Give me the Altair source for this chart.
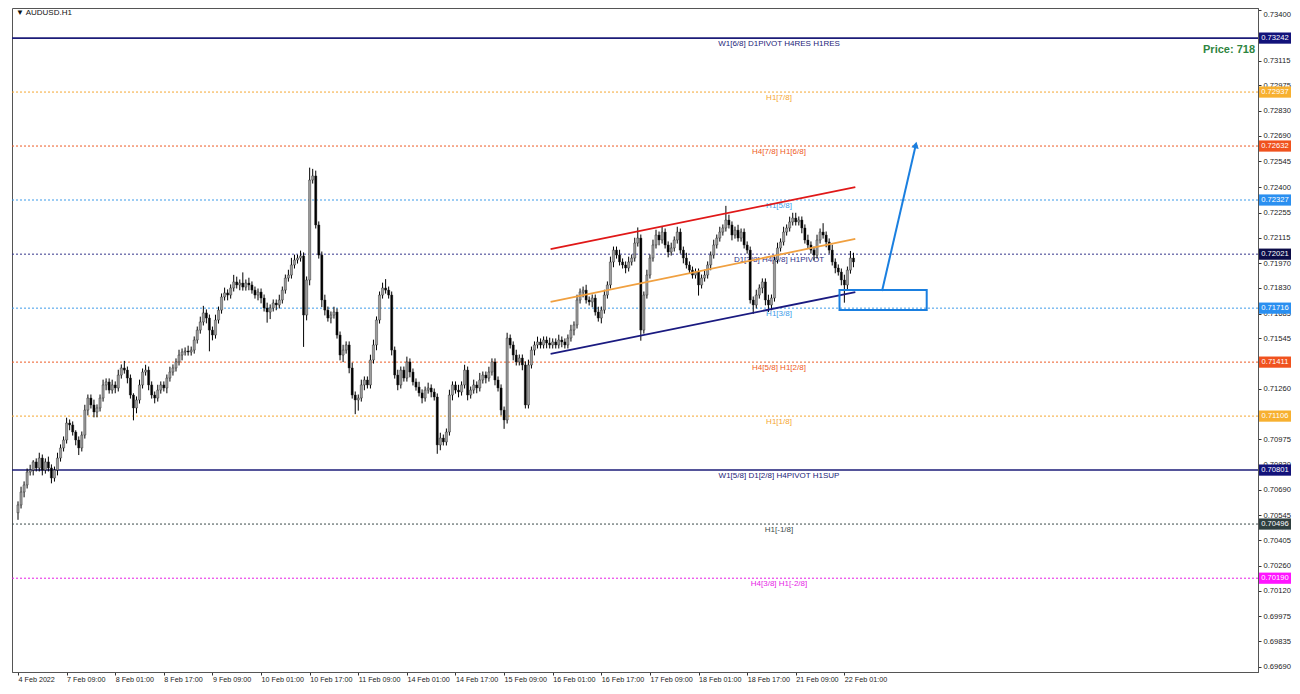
import json
import altair as alt
import pandas as pd

# ---------------- data ----------------
first_open = 0.70560
closes = [
    0.70604, 0.70677, 0.70717, 0.70790, 0.70801, 0.70847, 0.70813, 0.70869, 0.70801, 0.70847, 0.70813, 0.70756, 0.70801, 0.70869, 0.70926, 0.70971,
    0.71067, 0.71056, 0.71016, 0.70971, 0.70926, 0.70999, 0.71140, 0.71208, 0.71169, 0.71129, 0.71152, 0.71208, 0.71282, 0.71299, 0.71253, 0.71282,
    0.71265, 0.71338, 0.71378, 0.71366, 0.71321, 0.71225, 0.71152, 0.71197, 0.71282, 0.71355, 0.71366, 0.71282, 0.71225, 0.71208, 0.71253, 0.71282,
    0.71265, 0.71321, 0.71355, 0.71378, 0.71412, 0.71451, 0.71468, 0.71474, 0.71468, 0.71479, 0.71536, 0.71592, 0.71638, 0.71689, 0.71660, 0.71592,
    0.71564, 0.71649, 0.71705, 0.71779, 0.71802, 0.71790, 0.71830, 0.71864, 0.71847, 0.71858, 0.71835, 0.71858, 0.71847, 0.71818, 0.71790, 0.71807,
    0.71773, 0.71717, 0.71694, 0.71717, 0.71745, 0.71734, 0.71762, 0.71818, 0.71886, 0.71903, 0.71960, 0.71988, 0.71999, 0.72011, 0.71677, 0.71875,
    0.72440, 0.72463, 0.72186, 0.72016, 0.71762, 0.71705, 0.71660, 0.71677, 0.71694, 0.71564, 0.71451, 0.71479, 0.71508, 0.71378, 0.71225, 0.71197,
    0.71208, 0.71282, 0.71310, 0.71282, 0.71423, 0.71508, 0.71649, 0.71790, 0.71830, 0.71818, 0.71790, 0.71479, 0.71338, 0.71282, 0.71366, 0.71321,
    0.71412, 0.71355, 0.71299, 0.71270, 0.71237, 0.71208, 0.71253, 0.71265, 0.71242, 0.71214, 0.70943, 0.70982, 0.70960, 0.71016, 0.71225, 0.71282,
    0.71253, 0.71242, 0.71282, 0.71366, 0.71225, 0.71253, 0.71282, 0.71265, 0.71310, 0.71338, 0.71321, 0.71355, 0.71412, 0.71310, 0.71265, 0.71140,
    0.71084, 0.71547, 0.71508, 0.71451, 0.71412, 0.71434, 0.71395, 0.71169, 0.71395, 0.71479, 0.71508, 0.71525, 0.71508, 0.71536, 0.71519, 0.71508,
    0.71525, 0.71508, 0.71536, 0.71525, 0.71508, 0.71547, 0.71592, 0.71621, 0.71762, 0.71807, 0.71818, 0.71762, 0.71751, 0.71773, 0.71694, 0.71660,
    0.71705, 0.71790, 0.71847, 0.71977, 0.72044, 0.72016, 0.71977, 0.71960, 0.71943, 0.71977, 0.71999, 0.72084, 0.72112, 0.71592, 0.71790, 0.71903,
    0.71999, 0.72073, 0.72129, 0.72101, 0.72146, 0.72073, 0.72033, 0.72056, 0.72101, 0.72146, 0.72044, 0.71999, 0.71960, 0.71931, 0.71903, 0.71920,
    0.71847, 0.71886, 0.71903, 0.71960, 0.72016, 0.72073, 0.72112, 0.72146, 0.72169, 0.72214, 0.72186, 0.72129, 0.72157, 0.72112, 0.72146, 0.72073,
    0.72044, 0.71762, 0.71734, 0.71790, 0.71830, 0.71864, 0.71762, 0.71734, 0.71773, 0.71988, 0.72056, 0.72090, 0.72146, 0.72169, 0.72203, 0.72225,
    0.72203, 0.72214, 0.72169, 0.72101, 0.72073, 0.72044, 0.72016, 0.72101, 0.72146, 0.72129, 0.72090, 0.72044, 0.71977, 0.71943, 0.71920, 0.71875,
    0.71847, 0.71931, 0.71999, 0.71977,
]
upper_wick_pips = [
    2, 3, 2, 2, 3, 1, 2, 3, 2, 2, 3, 2, 2, 3, 2, 2,
    3, 2, 2, 1, 2, 2, 3, 2, 2, 3, 2, 2, 3, 2, 2, 3,
    2, 3, 2, 4, 2, 2, 1, 2, 3, 2, 3, 2, 2, 2, 3, 2,
    2, 2, 3, 2, 2, 3, 2, 2, 3, 2, 2, 2, 3, 4, 2, 2,
    2, 3, 2, 2, 3, 2, 2, 4, 3, 2, 6, 2, 3, 2, 2, 2,
    2, 2, 3, 2, 2, 2, 3, 2, 2, 3, 4, 3, 2, 3, 2, 2,
    7, 4, 3, 2, 2, 3, 2, 2, 3, 2, 2, 3, 2, 2, 3, 2,
    2, 3, 2, 2, 3, 3, 2, 2, 3, 5, 2, 2, 2, 3, 2, 2,
    3, 2, 2, 2, 3, 2, 2, 3, 2, 2, 2, 3, 2, 2, 3, 2,
    2, 3, 2, 3, 2, 2, 3, 2, 4, 2, 2, 3, 2, 2, 2, 2,
    2, 3, 2, 2, 3, 2, 2, 2, 3, 2, 2, 3, 2, 2, 2, 3,
    2, 2, 3, 2, 2, 2, 3, 2, 3, 2, 2, 3, 2, 2, 2, 3,
    2, 3, 2, 3, 2, 2, 3, 2, 2, 3, 2, 3, 6, 2, 2, 3,
    2, 3, 3, 2, 3, 2, 2, 3, 2, 3, 2, 2, 3, 2, 2, 2,
    2, 2, 3, 2, 2, 3, 2, 3, 2, 8, 3, 2, 2, 3, 2, 2,
    2, 2, 2, 3, 2, 2, 2, 3, 2, 2, 3, 2, 3, 2, 3, 3,
    3, 2, 2, 2, 3, 2, 2, 3, 2, 5, 2, 2, 3, 2, 2, 2,
    3, 2, 4, 3,
]
lower_wick_pips = [
    4, 2, 3, 2, 2, 3, 2, 2, 3, 2, 2, 3, 2, 3, 2, 2,
    2, 3, 2, 3, 4, 2, 2, 3, 2, 3, 3, 2, 2, 3, 2, 2,
    3, 2, 2, 2, 3, 2, 7, 3, 2, 2, 2, 3, 2, 3, 2, 2,
    2, 3, 2, 2, 2, 2, 3, 2, 2, 2, 2, 2, 2, 2, 3, 12,
    3, 2, 2, 2, 2, 3, 2, 2, 2, 3, 2, 2, 3, 2, 2, 3,
    3, 2, 6, 4, 2, 3, 2, 2, 2, 2, 2, 2, 2, 2, 18, 3,
    3, 2, 2, 2, 4, 3, 2, 3, 2, 2, 3, 4, 2, 3, 2, 8,
    6, 2, 3, 2, 2, 2, 3, 2, 2, 2, 2, 3, 2, 3, 2, 2,
    2, 3, 2, 2, 2, 3, 2, 2, 3, 2, 5, 3, 2, 2, 2, 3,
    2, 3, 2, 2, 3, 2, 2, 3, 2, 2, 3, 2, 2, 3, 2, 3,
    5, 2, 2, 3, 2, 2, 3, 2, 2, 2, 3, 2, 2, 2, 3, 2,
    2, 2, 2, 3, 2, 2, 2, 3, 2, 2, 3, 2, 2, 3, 2, 2,
    3, 2, 2, 2, 3, 2, 2, 2, 3, 2, 2, 2, 2, 6, 2, 2,
    2, 2, 2, 3, 2, 2, 3, 2, 2, 2, 2, 3, 2, 2, 2, 2,
    6, 2, 2, 2, 3, 2, 2, 2, 2, 2, 2, 3, 2, 2, 2, 2,
    2, 2, 5, 2, 2, 3, 3, 4, 3, 2, 2, 2, 2, 2, 2, 2,
    2, 2, 3, 2, 2, 2, 3, 2, 2, 2, 3, 2, 2, 3, 2, 3,
    10, 3, 2, 3,
]

x_tick_labels = ["4 Feb 2022", "7 Feb 09:00", "8 Feb 01:00", "8 Feb 17:00", "9 Feb 09:00",
                 "10 Feb 01:00", "10 Feb 17:00", "11 Feb 09:00", "14 Feb 01:00", "14 Feb 17:00",
                 "15 Feb 09:00", "16 Feb 01:00", "16 Feb 17:00", "17 Feb 09:00", "18 Feb 01:00",
                 "18 Feb 17:00", "21 Feb 09:00", "22 Feb 01:00"]
bars_per_label = 16
y_tick_values = [0.73400, 0.73115, 0.72975, 0.72830, 0.72690, 0.72545, 0.72400, 0.72255,
                 0.72115, 0.71970, 0.71830, 0.71685, 0.71545, 0.71260, 0.70975,
                 0.70830, 0.70690, 0.70545, 0.70405, 0.70260, 0.70120, 0.69975, 0.69835, 0.69690]

level_prices = [0.73242, 0.72937, 0.72632, 0.72327, 0.72021, 0.71716, 0.71411, 0.71106, 0.70801, 0.70496, 0.70190]
level_names = ["W1[6/8] D1PIVOT H4RES H1RES", "H1[7/8]", "H4[7/8] H1[6/8]", "H1[5/8]",
               "D1[3/8] H4[6/8] H1PIVOT", "H1[3/8]", "H4[5/8] H1[2/8]", "H1[1/8]",
               "W1[5/8] D1[2/8] H4PIVOT H1SUP", "H1[-1/8]", "H4[3/8] H1[-2/8]"]
level_solid = [True, False, False, False, False, False, False, False, True, False, False]
level_colors = ["#1c1c78", "#f5a630", "#ee5a24", "#3d9be9", "#34348a", "#3d9be9", "#ee5a24",
                "#f5a630", "#1c1c78", "#3b4a4a", "#e61ee6"]
tag_colors = ["#12127a", "#f7b030", "#f0521e", "#2a8ff0", "#0c0c48", "#2a8ff0", "#f0521e",
              "#f7b030", "#12127a", "#2f3f3f", "#ff14ff"]

channel_names = ["upper", "upper", "middle", "middle", "lower", "lower"]
channel_x = [175.3, 275.6, 175.3, 275.6, 175.3, 275.6]
channel_price = [0.72050, 0.72400, 0.71751, 0.72107, 0.71457, 0.71807]
channel_colors = ["#e01818", "#e01818", "#f0a040", "#f0a040", "#1a1a80", "#1a1a80"]

box_x = [270.4, 299.1]
box_price = [0.71818, 0.71706]
arrow_x = [284.4, 295.5]
arrow_price = [0.71813, 0.72638]

# ---------------- tables ----------------
opens = [first_open] + closes[:-1]
rows = []
for i, c in enumerate(closes):
    o = opens[i]
    rows.append(dict(idx=i, open=o, close=c,
                     high=max(o, c) + upper_wick_pips[i] * 0.0001,
                     low=min(o, c) - lower_wick_pips[i] * 0.0001,
                     fill="#9c9c9c" if c >= o else "#000000"))
candles = pd.DataFrame(rows)

levels = pd.DataFrame(dict(price=level_prices, name=level_names, solid=level_solid,
                           color=level_colors, tag=tag_colors,
                           txt=[f"{p:.5f}" for p in level_prices]))
channels = pd.DataFrame(dict(name=channel_names, idx=channel_x, price=channel_price, color=channel_colors))
box = pd.DataFrame(dict(x1=[box_x[0]], x2=[box_x[1]], p1=[box_price[0]], p2=[box_price[1]]))
arrow = pd.DataFrame(dict(idx=arrow_x, price=arrow_price))
arrow_tip = arrow.tail(1)

FONT = "Liberation Sans"
PLOT_W, PLOT_H = 1246, 664
xs = alt.Scale(domain=[-0.33, 406.5], nice=False, zero=False)
ys = alt.Scale(domain=[0.69660, 0.73412], nice=False, zero=False)
x_axis = alt.Axis(title=None, values=[i * bars_per_label for i in range(len(x_tick_labels))],
                  labelExpr=f"{json.dumps(x_tick_labels)}[round(datum.value/{bars_per_label})]",
                  labelAlign="left", labelFont=FONT, labelFontSize=7.2, labelColor="#222",
                  labelPadding=0, tickSize=3, tickColor="#333", domainColor="#555",
                  grid=False, labelOverlap=False, labelFlush=False)
y_axis = alt.Axis(title=None, orient="right", values=y_tick_values, format=".5f",
                  labelFont=FONT, labelFontSize=7.6, labelColor="#222", labelPadding=2,
                  labelBaseline={"condition": {"test": "datum.value > 0.7339", "value": "top"},
                                 "value": "middle"},
                  tickSize=3, tickColor="#333", domainColor="#555", grid=False,
                  labelOverlap=False, labelFlush=False)


def X(f):
    return alt.X(f, type="quantitative", scale=xs, axis=x_axis)


def Y(f):
    return alt.Y(f, type="quantitative", scale=ys, axis=y_axis)


lv = alt.Chart(levels)
solid_lines = lv.transform_filter("datum.solid").mark_rule(strokeWidth=1.6).encode(
    y=Y("price"), color=alt.Color("color:N", scale=None))
dotted_lines = lv.transform_filter("!datum.solid").mark_rule(strokeWidth=1, strokeDash=[2, 2]).encode(
    y=Y("price"), color=alt.Color("color:N", scale=None))
level_text = lv.mark_text(font=FONT, fontSize=8, baseline="middle", align="center", dy=6).encode(
    x=alt.value(767), y=Y("price"), text="name:N", color=alt.Color("color:N", scale=None))

wicks = alt.Chart(candles).mark_rule(strokeWidth=1, color="#000").encode(
    x=X("idx"), y=Y("low"), y2="high")
bodies = alt.Chart(candles).mark_bar(width=2.2, stroke="#222", strokeWidth=0.4).encode(
    x=X("idx"), y=Y("open"), y2="close", fill=alt.Fill("fill:N", scale=None))

channel_lines = alt.Chart(channels).mark_line(strokeWidth=1.8).encode(
    x=X("idx"), y=Y("price"), detail="name:N", color=alt.Color("color:N", scale=None))

box_mark = alt.Chart(box).mark_rect(fillOpacity=0, stroke="#1a7fe0", strokeWidth=2).encode(
    x=X("x1"), x2="x2", y=Y("p1"), y2="p2")
arrow_line = alt.Chart(arrow).mark_line(strokeWidth=2, color="#1a7fe0").encode(x=X("idx"), y=Y("price"))
arrow_head = alt.Chart(arrow_tip).mark_point(shape="triangle-up", filled=True, size=55, angle=13,
                                             color="#1a7fe0", opacity=1).encode(x=X("idx"), y=Y("price"))

tag_shape = "M-1,-0.35L1,-0.35L1,0.35L-1,0.35Z"
tag_cx = PLOT_W + 17
tags = lv.mark_point(shape=tag_shape, filled=True, size=1024, opacity=1).encode(
    x=alt.value(tag_cx), y=Y("price"), color=alt.Color("tag:N", scale=None))
tag_text = lv.mark_text(font=FONT, fontSize=7.6, color="white", align="center", baseline="middle").encode(
    x=alt.value(tag_cx), y=Y("price"), text="txt:N")

title_text = alt.Chart(pd.DataFrame(dict(t=["\u25BC  AUDUSD.H1"]))).mark_text(
    font=FONT, fontSize=8, align="left", baseline="top", color="#111").encode(
    x=alt.value(4), y=alt.value(1), text="t:N")
price_text = alt.Chart(pd.DataFrame(dict(t=["Price: 718"]))).mark_text(
    font=FONT, fontSize=11, fontWeight="bold", align="right", baseline="middle", color="#2e8540").encode(
    x=alt.value(PLOT_W - 3), y=alt.value(42), text="t:N")

chart = alt.layer(
    solid_lines, dotted_lines, level_text, wicks, bodies, channel_lines, box_mark,
    arrow_line, arrow_head, tags, tag_text, title_text, price_text
).properties(
    width=PLOT_W, height=PLOT_H,
    autosize=alt.AutoSizeParams(type="none"),
    padding={"left": 4, "top": 0, "right": 34, "bottom": 14},
    background="white",
).configure_view(stroke="#555", strokeWidth=1)

chart.save("out.html", embed_options={"renderer": "svg", "actions": False})
